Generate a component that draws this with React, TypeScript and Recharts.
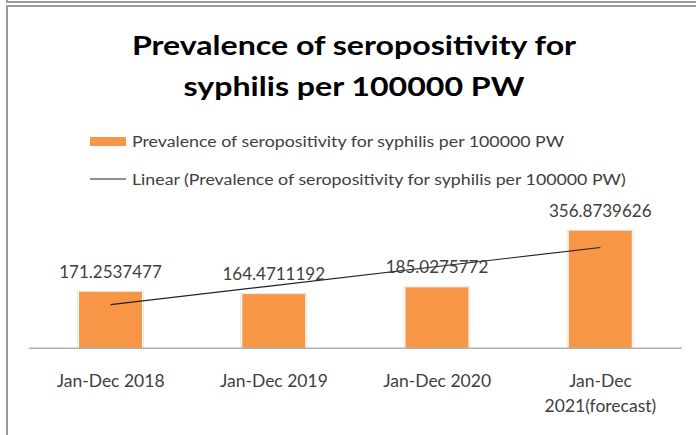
import React from 'react';
import { ComposedChart, Bar, Line, XAxis, YAxis, LabelList, Legend } from 'recharts';

const categories = ['Jan-Dec 2018', 'Jan-Dec 2019', 'Jan-Dec 2020', 'Jan-Dec 2021(forecast)'];
const prevalence = [171.2537477, 164.4711192, 185.0275772, 356.8739626];
const valueLabels = ['171.2537477', '164.4711192', '185.0275772', '356.8739626'];
const linearTrend = [132.8, 190.5, 248.3, 306.0];
const titleLines = ['Prevalence of seropositivity for', 'syphilis per 100000 PW'];
const seriesName = 'Prevalence of seropositivity for syphilis per 100000 PW';
const trendName = 'Linear (Prevalence of seropositivity for syphilis per 100000 PW)';
const yDomain = [0, 400];

const data = categories.map((c, i) => ({
  category: c,
  value: prevalence[i],
  trend: linearTrend[i],
  label: valueLabels[i],
}));

const FONT = 'Lato, "Open Sans", sans-serif';
const ORANGE = '#F79646';
const TITLE_SX = 1.19;
const LEGEND_SX = 1.225;

const BarShape = (props: any) => {
  const { x, y, width, height } = props;
  if (height <= 0) return null;
  return (
    <g>
      <rect x={x - 2} y={y - 1} width={width + 4} height={height + 1} fill="#e6e6e6" />
      <rect x={x - 1} y={y} width={width + 2} height={height} fill="#ffffff" />
      <rect x={x} y={y} width={width} height={height} fill={ORANGE} />
    </g>
  );
};

const ValueLabel = (props: any) => {
  const { x, y, width, value } = props;
  return (
    <text x={x + width / 2} y={y - 14} textAnchor="middle" fontFamily={FONT} fontSize={17} fill="#404040">
      {value}
    </text>
  );
};

const Tick = (props: any) => {
  const { x, y, payload } = props;
  const v: string = payload.value;
  const sp = v.indexOf(' ');
  const lines = v.length > 14 ? [v.slice(0, sp), v.slice(sp + 1)] : [v];
  return (
    <text x={x} y={y} textAnchor="middle" fontFamily={FONT} fontSize={17.5} fill="#404040">
      {lines.map((l, i) => (
        <tspan key={i} x={x} dy={i === 0 ? 39 : 25}>{l}</tspan>
      ))}
    </text>
  );
};

const LegendContent = () => (
  <svg width={696} height={70} style={{ display: 'block' }}>
    <rect x={90} y={12} width={36} height={9} fill={ORANGE} />
    <line x1={90} x2={126} y1={54} y2={54} stroke="#222" strokeWidth={1.2} />
    <g transform={`scale(${LEGEND_SX},1)`}>
      <text x={132 / LEGEND_SX} y={22} fontFamily={FONT} fontSize={14.5} fill="#404040">
        {seriesName}
      </text>
      <text x={132 / LEGEND_SX} y={60} fontFamily={FONT} fontSize={14.5} fill="#404040">
        {trendName}
      </text>
    </g>
  </svg>
);

export default function App() {
  return (
    <div style={{ position: 'absolute', left: 0, top: 0, width: 696, height: 435, background: '#fff', overflow: 'hidden' }}>
      <div style={{ position: 'absolute', left: 6, top: 0, width: 2, height: 3, background: '#9a9a9a' }} />
      <div style={{ position: 'absolute', left: 6, top: 1, width: 690, height: 2, background: '#9a9a9a' }} />
      <div style={{ position: 'absolute', left: 6, top: 5, width: 690, height: 2, background: '#9a9a9a' }} />
      <div style={{ position: 'absolute', left: 6, top: 5, width: 2, height: 430, background: '#9a9a9a' }} />
      <svg width={696} height={110} style={{ position: 'absolute', left: 0, top: 0 }}>
        <g transform={`scale(${TITLE_SX},1)`}>
          {titleLines.map((t, i) => (
            <text
              key={i}
              x={354 / TITLE_SX}
              y={55 + i * 41}
              textAnchor="middle"
              fontFamily={FONT}
              fontWeight={700}
              fontSize={27}
              fill="#000"
            >
              {t}
            </text>
          ))}
        </g>
      </svg>
      <div style={{ position: 'absolute', left: 0, top: 0 }}>
        <ComposedChart
          width={696}
          height={435}
          data={data}
          margin={{ top: 216.5, right: 14, bottom: 26.7, left: 29 }}
        >
          <XAxis
            dataKey="category"
            height={60}
            tickLine={false}
            tickSize={0}
            tickMargin={0}
            axisLine={{ stroke: '#b0b0b0', strokeWidth: 1.5 }}
            tick={<Tick />}
            interval={0}
          />
          <YAxis hide domain={yDomain} />
          <Legend
            layout="vertical"
            align="center"
            verticalAlign="middle"
            content={<LegendContent />}
            wrapperStyle={{ top: 125, left: 0, width: 696, height: 70 }}
          />
          <Bar dataKey="value" name={seriesName} barSize={63} shape={<BarShape />} isAnimationActive={false}>
            <LabelList dataKey="label" content={<ValueLabel />} />
          </Bar>
          <Line
            dataKey="trend"
            name={trendName}
            stroke="#222"
            strokeWidth={1.2}
            dot={false}
            activeDot={false}
            isAnimationActive={false}
          />
        </ComposedChart>
      </div>
    </div>
  );
}
